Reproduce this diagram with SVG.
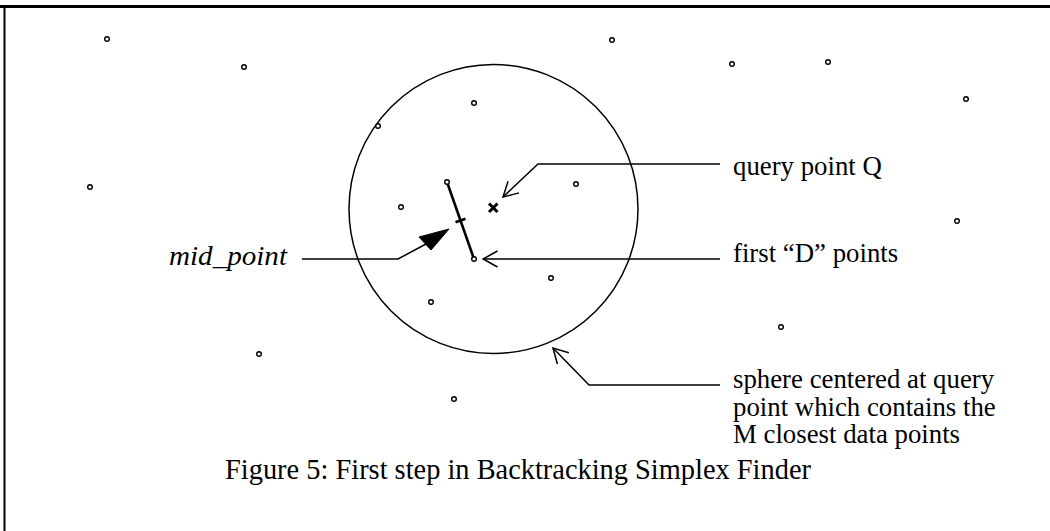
<svg xmlns="http://www.w3.org/2000/svg" width="1050" height="531" viewBox="0 0 1050 531">
  <style>
    .pt { fill: #fff; stroke: #000; stroke-width: 1.4; }
    .ln { fill: none; stroke: #000; stroke-width: 1.5; }
    .lbl { font-family: "Liberation Serif", "Times New Roman", serif; font-size: 26.8px; fill: #000; }
    .cap { font-family: "Liberation Serif", "Times New Roman", serif; font-size: 28.4px; fill: #000; }
  </style>
  <defs>
    <marker id="open" viewBox="0 0 17 18" refX="15.5" refY="9" markerWidth="17" markerHeight="18" markerUnits="userSpaceOnUse" orient="auto">
      <path d="M1,1 L15.5,9 L1,17" fill="none" stroke="#000" stroke-width="1.5"/>
    </marker>
  </defs>
  <rect width="1050" height="531" fill="#fff"/>

  <!-- frame: top and left edges -->
  <g id="frame">
    <line x1="0" y1="6.5" x2="1050" y2="6.5" stroke="#000" stroke-width="3"/>
    <line x1="4.5" y1="5" x2="4.5" y2="531" stroke="#000" stroke-width="2"/>
  </g>

  <!-- search sphere -->
  <g id="sphere">
    <circle cx="493.5" cy="209" r="144.5" class="ln"/>
  </g>

  <!-- data points -->
  <g id="data-points">
    <circle cx="107" cy="39" r="2.3" class="pt"/>
    <circle cx="244" cy="67" r="2.3" class="pt"/>
    <circle cx="612" cy="40" r="2.3" class="pt"/>
    <circle cx="732" cy="64" r="2.3" class="pt"/>
    <circle cx="828" cy="62" r="2.3" class="pt"/>
    <circle cx="966" cy="99" r="2.3" class="pt"/>
    <circle cx="474" cy="103" r="2.3" class="pt"/>
    <circle cx="378" cy="126" r="2.3" class="pt"/>
    <circle cx="90" cy="187" r="2.3" class="pt"/>
    <circle cx="576" cy="184" r="2.3" class="pt"/>
    <circle cx="401" cy="207" r="2.3" class="pt"/>
    <circle cx="957" cy="221" r="2.3" class="pt"/>
    <circle cx="551" cy="278" r="2.3" class="pt"/>
    <circle cx="431" cy="302" r="2.3" class="pt"/>
    <circle cx="781" cy="327" r="2.3" class="pt"/>
    <circle cx="259" cy="354" r="2.3" class="pt"/>
    <circle cx="454" cy="399" r="2.3" class="pt"/>
  </g>

  <!-- first D points joined by a segment, with its midpoint tick -->
  <g id="simplex">
    <line x1="447" y1="182" x2="474" y2="259" stroke="#000" stroke-width="2.6"/>
    <line x1="455.5" y1="222.3" x2="465.5" y2="218.7" stroke="#000" stroke-width="2.6"/>
    <circle cx="447" cy="182" r="2.3" class="pt"/>
    <circle cx="474" cy="259" r="2.3" class="pt"/>
  </g>

  <!-- query point -->
  <g id="query-point">
    <path d="M489,203.5 L497.5,212 M497.5,203.5 L489,212" stroke="#000" stroke-width="3"/>
  </g>

  <!-- leader lines -->
  <g id="connectors">
    <polyline points="720,164 538,164 503,197" class="ln" marker-end="url(#open)"/>
    <polyline points="720,259 483,259" class="ln" marker-end="url(#open)"/>
    <polyline points="720,385 589,385 553,348" class="ln" marker-end="url(#open)"/>
    <polyline points="302,259 398,259 426,244" class="ln"/>
    <polygon points="449,229 419,237 431,250" fill="#000" stroke="#000" stroke-width="1"/>
  </g>

  <!-- labels -->
  <g id="labels">
    <text class="lbl" x="733" y="175">query point Q</text>
    <text class="lbl" x="733" y="262">first “D” points</text>
    <text class="lbl" x="169" y="265" font-style="italic" font-size="28.6" textLength="118" lengthAdjust="spacingAndGlyphs">mid_point</text>
    <text class="lbl" x="733" y="388">sphere centered at query</text>
    <text class="lbl" x="733" y="415.5">point which contains the</text>
    <text class="lbl" x="733" y="443">M closest data points</text>
  </g>

  <g id="caption">
    <text class="cap" x="518" y="479" text-anchor="middle">Figure 5: First step in Backtracking Simplex Finder</text>
  </g>
</svg>
